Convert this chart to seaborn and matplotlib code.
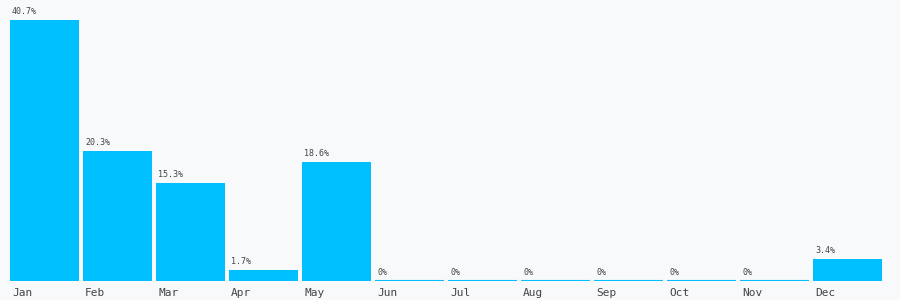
import matplotlib
matplotlib.use("Agg")
import matplotlib.pyplot as plt
import matplotlib.transforms as mtransforms
import seaborn as sns
import pandas as pd

months = ["Jan", "Feb", "Mar", "Apr", "May", "Jun", "Jul", "Aug", "Sep", "Oct", "Nov", "Dec"]
values = [40.7, 20.3, 15.3, 1.7, 18.6, 0, 0, 0, 0, 0, 0, 3.4]

BG = "#f8f9fb"
BAR = "#00bfff"

sns.set_theme(style="white")
plt.rcParams["font.family"] = ["DejaVu Sans Mono", "DejaVu Sans"]

df = pd.DataFrame({"month": months, "value": values})

fig = plt.figure(figsize=(9, 3), dpi=100, facecolor=BG)
ax = fig.add_axes([10 / 900, 19 / 300, 872 / 900, 281 / 300])
ax.set_facecolor(BG)

width = 0.945
sns.barplot(data=df, x="month", y="value", color=BAR, saturation=1, width=width,
            linewidth=0, ax=ax)

for p, v in zip(ax.patches, values):
    if v == 0:
        p.set_edgecolor(BAR)
        p.set_linewidth(1.5)

ax.set_xlim(-width / 2, len(months) - 1 + width / 2)
ax.set_ylim(0, 43.85)
for s in ax.spines.values():
    s.set_visible(False)
ax.set_yticks([])
ax.set_xlabel("")
ax.set_ylabel("")

for p, v in zip(ax.patches, values):
    ax.annotate(f"{v:g}%", (p.get_x(), p.get_height()), xytext=(2, 4),
                textcoords="offset pixels", ha="left", va="bottom",
                fontsize=6, color="#444444")

ax.set_xticks([p.get_x() for p in ax.patches])
ax.set_xticklabels(months, fontsize=8, color="#444444", ha="left")
ax.tick_params(axis="x", length=0, pad=5)
offset = mtransforms.ScaledTranslation(2 / 100, 0, fig.dpi_scale_trans)
for lbl in ax.get_xticklabels():
    lbl.set_transform(lbl.get_transform() + offset)

fig.savefig("out.png", dpi=100, facecolor=BG)
